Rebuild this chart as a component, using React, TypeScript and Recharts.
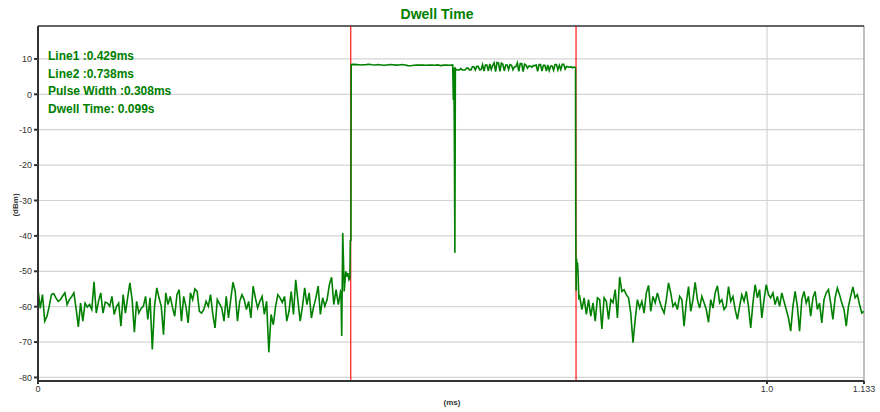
import React from 'react';
import { LineChart, Line, XAxis, YAxis, CartesianGrid, ReferenceLine, ReferenceArea } from 'recharts';

// ---- Data ----
const titleText = 'Dwell Time';
const line1Ms = 0.429;
const line2Ms = 0.738;
const pulseWidthMs = 0.308;
const dwellTimeS = 0.099;

const xDomain: [number, number] = [0, 1.133];
const xTicks = [0, 1.0, 1.133];
const xTickLabels = ['0', '1.0', '1.133'];
const yDomain: [number, number] = [-81, 19.3];
const yTicks = [-80, -70, -60, -50, -40, -30, -20, -10, 0, 10];

// noise floor before the pulse (sampled uniformly from 0 to 0.415 ms)
const preNoiseSpanMs: [number, number] = [0, 0.415];
const preNoiseDbm = [
  -55.0, -60.5, -56.6, -64.1, -62.7, -59.9, -56.6, -56.3, -57.5, -58.5, -58.0, -57.0, -56.1, -59.4, -58.0, -57.2,
  -56.1, -60.5, -65.7, -59.0, -64.1, -59.0, -60.1, -59.4, -60.8, -53.0, -61.8, -58.5, -56.1, -61.8, -58.7, -59.0,
  -59.9, -57.1, -62.2, -60.0, -59.0, -65.5, -56.6, -61.8, -57.5, -53.3, -58.0, -67.2, -58.5, -61.8, -60.5, -59.9,
  -57.1, -63.6, -57.5, -72.1, -59.9, -54.7, -57.5, -59.9, -67.9, -56.1, -59.4, -57.1, -60.2, -62.7, -56.6, -55.2,
  -64.1, -57.1, -59.9, -64.6, -56.1, -58.0, -55.0,
  -55.7, -61.3, -61.8, -60.8, -58.5, -59.9, -56.6, -62.2, -66.0, -58.0, -59.2, -60.4, -64.1, -57.1, -63.2, -58.0,
  -53.1, -55.7, -64.1, -58.5, -56.6, -58.0, -60.8, -58.5, -63.2, -54.2, -57.5, -60.4, -58.5, -57.1, -62.2, -58.5,
  -72.9, -62.2, -65.1, -60.0, -56.6, -57.5, -58.8, -57.1, -64.1, -61.3, -55.7, -62.2, -52.4, -58.5, -64.1, -60.0,
  -54.7, -59.4, -56.1, -63.2, -60.0, -57.5, -54.2, -62.2, -57.5, -59.9, -58.0, -53.8, -51.7, -59.4, -55.2, -59.4,
  -55.7,
];

// leading edge of the pulse
const riseTimesMs = [0.4156, 0.4166, 0.418, 0.419, 0.42, 0.4222, 0.4236, 0.425, 0.4266, 0.4278, 0.4284, 0.4292];
const riseDbm = [-56.0, -68.3, -39.2, -47.0, -55.7, -50.0, -51.5, -50.5, -52.4, -52.0, -41.1, -41.5];

// pulse top, first part
const pulseASpanMs: [number, number] = [0.4296, 0.5688];
const pulseADbm = [
  8.4, 8.45, 8.4, 8.3, 8.35, 8.4, 8.5, 8.35, 8.3, 8.4, 8.3, 8.2, 8.3, 8.4, 8.35, 8.25, 8.3, 8.4, 8.3, 8.1,
  8.05, 8.2, 8.3, 8.25, 8.3, 8.2, 8.3, 8.25, 8.2, 8.3, 8.1, 8.25, 8.3, 8.2, 8.3,
];

// drop-out inside the pulse
const dropTimesMs = [0.5697, 0.5704, 0.5711, 0.5718, 0.5725];
const dropDbm = [-1.6, 7.5, -11.5, -44.8, 7.3];

// pulse top, second part
const pulseBSpanMs: [number, number] = [0.574, 0.737];
const pulseBDbm = [
  6.85, 6.85, 6.85, 7.3, 6.85, 6.85, 6.85, 7.4, 7.4, 6.9, 6.9, 7.8, 7.8, 6.9, 7.9, 7.9, 6.9, 7.0, 8.4, 6.6,
  8.3, 8.3, 6.6, 8.6, 7.0, 8.2, 8.9, 6.4, 9.0, 8.8, 6.5, 8.8, 8.5, 6.6, 8.3, 8.3, 7.0, 8.4, 8.2, 6.9,
  7.8, 7.8, 8.9, 6.5, 8.7, 8.7, 6.4, 8.5, 8.2, 7.4, 8.0, 8.0, 7.6, 8.1, 8.1, 8.3, 6.5, 8.4, 8.4, 6.6,
  8.2, 8.2, 6.6, 8.3, 6.7, 8.0, 8.0, 6.8, 8.4, 8.4, 6.9, 8.2, 7.0, 8.5, 8.5, 7.1, 7.9, 7.8, 7.6, 7.8,
  7.5, 7.7, 7.6,
];

// trailing edge
const fallTimesMs = [0.7373, 0.7376, 0.7381, 0.7386, 0.7393, 0.74, 0.7408, 0.7418];
const fallDbm = [7.5, -37.2, -55.5, -46.3, -49.0, -47.5, -50.5, -57.5];

// noise floor after the pulse (sampled uniformly from 0.743 to 1.133 ms)
const postNoiseSpanMs: [number, number] = [0.743, 1.133];
const postNoiseDbm = [
  -57.1, -60.8, -57.5, -62.2, -58.0, -62.7, -58.9, -64.1, -57.5, -58.0, -66.3, -57.5, -58.5, -63.6, -58.0, -58.9,
  -55.2, -63.2, -51.6, -55.7, -55.2, -56.6, -57.5, -61.8, -70.2, -63.6, -58.0, -60.4, -58.5, -61.8, -56.1, -54.0,
  -61.3, -57.1, -58.9, -56.1, -58.5, -60.4, -61.8, -58.0, -53.3, -56.1, -59.9, -58.9, -60.8, -57.1, -58.0, -65.5,
  -58.9, -54.3, -61.3, -58.0, -53.1, -58.0, -60.4, -57.1, -58.9, -60.8, -64.4, -58.0, -60.4, -56.1, -54.1, -58.9,
  -58.0, -60.8,
  -59.9, -54.3, -58.5, -57.1, -60.8, -63.6, -59.9, -56.6, -58.5, -55.7, -59.9, -66.0, -59.0, -53.8, -57.5, -55.2,
  -63.2, -58.0, -53.8, -56.6, -57.5, -56.1, -59.4, -57.1, -59.9, -56.1, -58.5, -60.8, -63.2, -66.9, -59.9, -55.7,
  -59.9, -66.9, -58.0, -55.7, -59.0, -57.1, -62.7, -57.5, -55.7, -60.8, -59.0, -64.6, -58.0, -56.1, -55.2, -59.0,
  -63.6, -57.5, -54.7, -56.6, -59.0, -60.8, -65.5, -59.9, -57.1, -54.4, -57.5, -56.6, -59.4, -61.8, -61.3,
];

type Pt = { t: number; v: number };
const sampled = (span: [number, number], vals: number[]): Pt[] =>
  vals.map((v, i) => ({ t: span[0] + (i * (span[1] - span[0])) / (vals.length - 1), v }));
const explicit = (times: number[], vals: number[]): Pt[] => times.map((t, i) => ({ t, v: vals[i] }));

const data: Pt[] = [
  ...sampled(preNoiseSpanMs, preNoiseDbm),
  ...explicit(riseTimesMs, riseDbm),
  ...sampled(pulseASpanMs, pulseADbm),
  ...explicit(dropTimesMs, dropDbm),
  ...sampled(pulseBSpanMs, pulseBDbm),
  ...explicit(fallTimesMs, fallDbm),
  ...sampled(postNoiseSpanMs, postNoiseDbm),
];

const annotations = [
  `Line1 :${line1Ms}ms`,
  `Line2 :${line2Ms}ms`,
  `Pulse Width :${pulseWidthMs}ms`,
  `Dwell Time: ${dwellTimeS}s`,
];

const FONT = '"Liberation Sans", Arial, sans-serif';
const GREEN = '#008000';

export default function App() {
  const fmtX = (v: number) => {
    const idx = xTicks.findIndex((t) => Math.abs(t - v) < 1e-9);
    return idx >= 0 ? xTickLabels[idx] : String(v);
  };
  return (
    <div style={{ position: 'absolute', left: 0, top: 0, width: 880, height: 412, background: '#fff', fontFamily: FONT }}>
      <LineChart width={880} height={412} data={data} margin={{ top: 26, right: 16, left: 0, bottom: 1 }}>
        <CartesianGrid stroke="#d4d4d4" strokeWidth={1.2} horizontal vertical />
        <ReferenceArea x1={xDomain[0]} x2={xDomain[1]} y1={yDomain[0]} y2={yDomain[1]} fill="none" stroke="#9a9a9a" strokeWidth={1} ifOverflow="visible" />
        <ReferenceLine y={yDomain[1]} stroke="#444" strokeWidth={1.5} ifOverflow="visible" />
        <ReferenceLine x={line1Ms} stroke="#ff0000" strokeWidth={1.1} />
        <ReferenceLine x={line2Ms} stroke="#ff0000" strokeWidth={1.1} />
        <XAxis
          type="number"
          dataKey="t"
          domain={xDomain}
          ticks={xTicks}
          tickFormatter={fmtX}
          allowDataOverflow
          height={30}
          stroke="#333"
          strokeWidth={2}
          tickSize={3}
          tick={{ fontSize: 9, fill: '#333', fontFamily: FONT }}
        />
        <YAxis
          type="number"
          dataKey="v"
          domain={yDomain}
          ticks={yTicks}
          allowDataOverflow
          width={38}
          stroke="#333"
          strokeWidth={2}
          tickSize={4}
          tick={{ fontSize: 9, fill: '#333', fontFamily: FONT }}
        />
        <Line type="linear" dataKey="v" stroke={GREEN} strokeWidth={1.6} dot={false} isAnimationActive={false} />
      </LineChart>
      <svg width={880} height={412} style={{ position: 'absolute', left: 0, top: 0, pointerEvents: 'none' }}>
        <text x={437} y={19} textAnchor="middle" fontSize={14} fontWeight="bold" fill={GREEN} fontFamily={FONT}>
          {titleText}
        </text>
        {annotations.map((a, i) => (
          <text key={a} x={48} y={60 + i * 17.5} fontSize={12} fontWeight="bold" fill={GREEN} fontFamily={FONT}>
            {a}
          </text>
        ))}
        <text x={452} y={405} textAnchor="middle" fontSize={8} fontWeight="bold" fill="#333" fontFamily={FONT}>
          (ms)
        </text>
        <text x={18} y={205} textAnchor="middle" fontSize={8} fontWeight="bold" fill="#333" fontFamily={FONT} transform="rotate(-90 18 205)">
          (dBm)
        </text>
      </svg>
    </div>
  );
}
